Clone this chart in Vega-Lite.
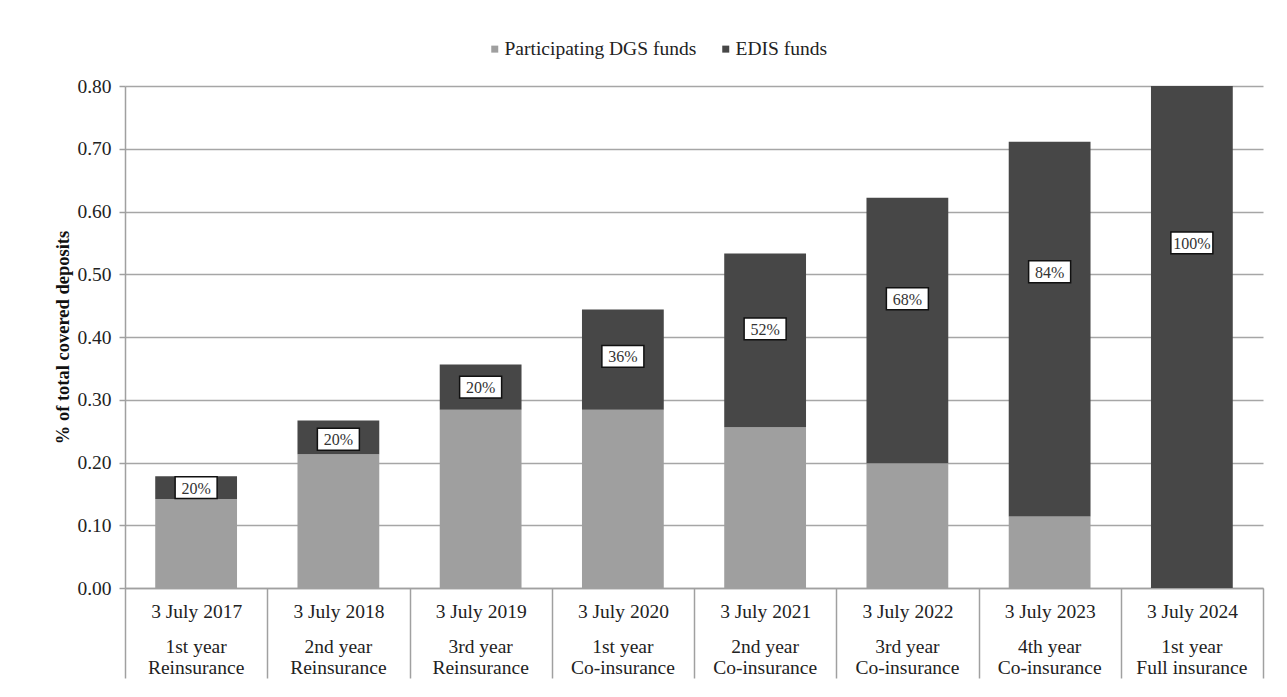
{
  "$schema": "https://vega.github.io/schema/vega-lite/v6.json",
  "width": 1138,
  "height": 502,
  "autosize": {"type": "none"},
  "padding": {"left": 125, "top": 86, "right": 24, "bottom": 109},
  "background": "white",
  "config": {
    "view": {"stroke": null},
    "font": "Liberation Serif"
  },
  "datasets": {
    "bars": [
      {"period": "3 July 2017|1st year|Reinsurance", "series": "Participating DGS funds", "k": 1, "value": 0.142},
      {"period": "3 July 2017|1st year|Reinsurance", "series": "EDIS funds", "k": 2, "value": 0.036},
      {"period": "3 July 2018|2nd year|Reinsurance", "series": "Participating DGS funds", "k": 1, "value": 0.213},
      {"period": "3 July 2018|2nd year|Reinsurance", "series": "EDIS funds", "k": 2, "value": 0.054},
      {"period": "3 July 2019|3rd year|Reinsurance", "series": "Participating DGS funds", "k": 1, "value": 0.284},
      {"period": "3 July 2019|3rd year|Reinsurance", "series": "EDIS funds", "k": 2, "value": 0.072},
      {"period": "3 July 2020|1st year|Co-insurance", "series": "Participating DGS funds", "k": 1, "value": 0.284},
      {"period": "3 July 2020|1st year|Co-insurance", "series": "EDIS funds", "k": 2, "value": 0.160},
      {"period": "3 July 2021|2nd year|Co-insurance", "series": "Participating DGS funds", "k": 1, "value": 0.256},
      {"period": "3 July 2021|2nd year|Co-insurance", "series": "EDIS funds", "k": 2, "value": 0.277},
      {"period": "3 July 2022|3rd year|Co-insurance", "series": "Participating DGS funds", "k": 1, "value": 0.199},
      {"period": "3 July 2022|3rd year|Co-insurance", "series": "EDIS funds", "k": 2, "value": 0.423},
      {"period": "3 July 2023|4th year|Co-insurance", "series": "Participating DGS funds", "k": 1, "value": 0.114},
      {"period": "3 July 2023|4th year|Co-insurance", "series": "EDIS funds", "k": 2, "value": 0.597},
      {"period": "3 July 2024|1st year|Full insurance", "series": "Participating DGS funds", "k": 1, "value": 0.0},
      {"period": "3 July 2024|1st year|Full insurance", "series": "EDIS funds", "k": 2, "value": 0.800}
    ],
    "labels": [
      {"period": "3 July 2017|1st year|Reinsurance", "label": "20%", "at": 0.160},
      {"period": "3 July 2018|2nd year|Reinsurance", "label": "20%", "at": 0.237},
      {"period": "3 July 2019|3rd year|Reinsurance", "label": "20%", "at": 0.320},
      {"period": "3 July 2020|1st year|Co-insurance", "label": "36%", "at": 0.369},
      {"period": "3 July 2021|2nd year|Co-insurance", "label": "52%", "at": 0.413},
      {"period": "3 July 2022|3rd year|Co-insurance", "label": "68%", "at": 0.461},
      {"period": "3 July 2023|4th year|Co-insurance", "label": "84%", "at": 0.504},
      {"period": "3 July 2024|1st year|Full insurance", "label": "100%", "at": 0.550}
    ]
  },
  "resolve": {"axis": {"x": "independent"}},
  "layer": [
    {
      "data": {"name": "bars"},
      "mark": {"type": "bar", "width": {"band": 0.575}},
      "encoding": {
        "x": {
          "field": "period", "type": "nominal", "sort": null,
          "scale": {"paddingInner": 0, "paddingOuter": 0},
          "axis": {
            "orient": "bottom", "title": null, "grid": false,
            "tickBand": "extent", "tickSize": 90, "tickColor": "#a0a0a0", "tickWidth": 1.5,
            "domainColor": "#a0a0a0", "domainWidth": 1.5,
            "labelExpr": "isString(datum.value) ? split(datum.value, '|')[0] : ''",
            "labelAngle": 0, "labelFont": "Liberation Serif", "labelFontSize": 19.5, "labelColor": "#222",
            "labelBaseline": "alphabetic", "labelPadding": -61, "labelOverlap": false, "labelBound": false, "labelFlush": false
          }
        },
        "y": {
          "field": "value", "type": "quantitative", "stack": "zero",
          "scale": {"domain": [0, 0.8], "nice": false},
          "axis": {
            "title": "% of total covered deposits",
            "titleFont": "Liberation Serif", "titleFontSize": 18.5, "titleFontWeight": "bold", "titleColor": "#111",
            "titlePadding": 4,
            "values": [0, 0.1, 0.2, 0.3, 0.4, 0.5, 0.6, 0.7, 0.8],
            "format": ".2f",
            "labelFont": "Liberation Serif", "labelFontSize": 19.5, "labelColor": "#222", "labelPadding": 8,
            "tickColor": "#a0a0a0", "tickSize": 6, "tickWidth": 1.5,
            "domainColor": "#a0a0a0", "domainWidth": 1.5,
            "gridColor": "#a6a6a6", "gridWidth": 1.5
          }
        },
        "color": {
          "field": "series", "type": "nominal",
          "scale": {"domain": ["Participating DGS funds", "EDIS funds"], "range": ["#9f9f9f", "#474747"]},
          "legend": {
            "title": null, "orient": "none", "direction": "horizontal",
            "legendX": 360, "legendY": -47, "padding": 0,
            "symbolType": "square", "symbolSize": 49, "symbolStrokeWidth": 0,
            "labelFont": "Liberation Serif", "labelFontSize": 19.5, "labelColor": "#222", "labelLimit": 400,
            "labelOffset": 0, "columnPadding": 19
          }
        },
        "order": {"field": "k", "type": "quantitative"}
      }
    },
    {
      "data": {"name": "labels"},
      "mark": {"type": "point", "shape": "M-1,-0.52H1V0.52H-1Z", "size": 1764, "filled": true, "fill": "white", "stroke": "#111", "strokeWidth": 1.5, "opacity": 1},
      "encoding": {
        "x": {
          "field": "period", "type": "nominal", "sort": null,
          "axis": {
            "orient": "bottom", "title": null, "grid": false, "ticks": false, "tickSize": 0, "domain": false,
            "labelExpr": "isString(datum.value) ? [split(datum.value, '|')[1], split(datum.value, '|')[2]] : ''",
            "labelAngle": 0, "labelFont": "Liberation Serif", "labelFontSize": 19.5, "labelColor": "#222",
            "labelLineHeight": 21,
            "labelBaseline": "alphabetic", "labelPadding": 64, "labelOverlap": false, "labelBound": false, "labelFlush": false
          }
        },
        "y": {"field": "at", "type": "quantitative"}
      }
    },
    {
      "data": {"name": "labels"},
      "mark": {"type": "text", "font": "Liberation Serif", "fontSize": 16, "color": "#333", "baseline": "middle", "align": "center", "dy": 1},
      "encoding": {
        "x": {"field": "period", "type": "nominal", "sort": null, "axis": null},
        "y": {"field": "at", "type": "quantitative"},
        "text": {"field": "label"}
      }
    }
  ]
}
